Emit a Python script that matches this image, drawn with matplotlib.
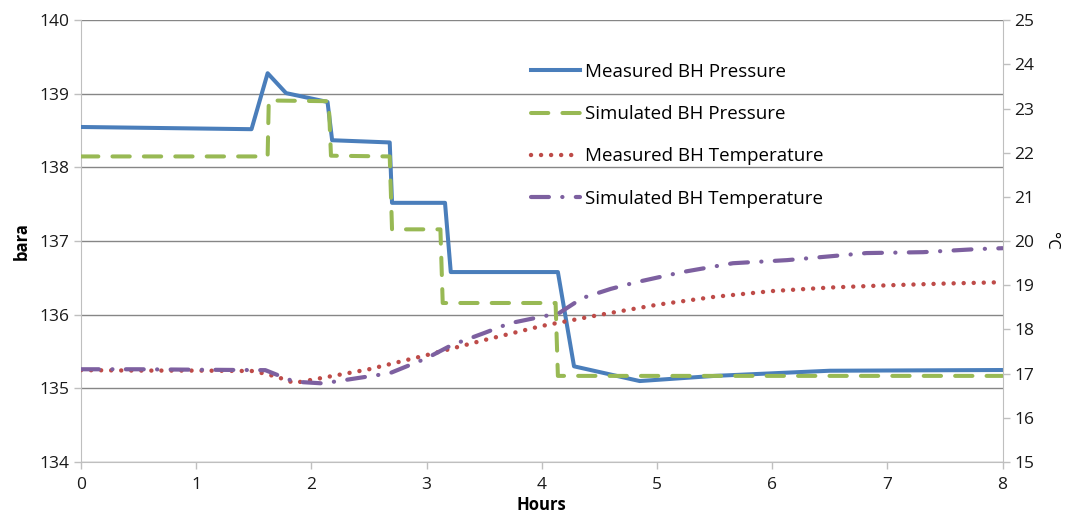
import matplotlib
matplotlib.use("Agg")
import matplotlib.pyplot as plt

plt.rcParams['font.family'] = ['Open Sans', 'DejaVu Sans']

# Measured BH pressure (bara)
mp_t = [0, 1.48, 1.62, 1.78, 2.14, 2.18, 2.68, 2.70, 3.16, 3.21, 4.14, 4.28, 4.85, 5.5, 6.5, 8]
mp_v = [138.55, 138.52, 139.28, 139.01, 138.89, 138.37, 138.34, 137.52, 137.52, 136.58, 136.58,
        135.30, 135.10, 135.17, 135.24, 135.25]
# Simulated BH pressure (bara)
sp_t = [0, 1.62, 1.63, 2.15, 2.17, 2.68, 2.70, 3.12, 3.14, 4.12, 4.14, 8]
sp_v = [138.15, 138.15, 138.91, 138.9, 138.16, 138.15, 137.16, 137.16, 136.16, 136.16, 135.17, 135.17]
# Measured BH temperature (degC)
mt_t = [0, 0.5, 1.0, 1.5, 1.7, 1.85, 2.0, 2.5, 3.0, 3.5, 4.0, 4.5, 5.0, 5.5, 6.0, 6.5, 7.0, 7.5, 8]
mt_v = [17.08, 17.07, 17.07, 17.06, 16.93, 16.79, 16.86, 17.1, 17.42, 17.76, 18.08, 18.33, 18.56,
        18.74, 18.87, 18.95, 19.0, 19.04, 19.07]
# Simulated BH temperature (degC)
st_t = [0, 0.5, 1.0, 1.6, 1.85, 2.1, 2.4, 2.68, 3.0, 3.22, 3.5, 3.72, 3.98, 4.15, 4.35, 4.6,
        4.82, 5.22, 5.66, 6.13, 6.82, 7.31, 7.78, 8]
st_v = [17.1, 17.1, 17.09, 17.08, 16.82, 16.78, 16.9, 17.01, 17.35, 17.65, 17.92, 18.14, 18.28,
        18.37, 18.71, 18.92, 19.07, 19.3, 19.5, 19.57, 19.73, 19.75, 19.82, 19.84]

BLUE = "#4a7ebb"; GREEN = "#98b954"; RED = "#be4b48"; PURPLE = "#7d60a0"
GRID = "#868686"; AX = "#bfbfbf"

fig = plt.figure(figsize=(10.69, 5.18), dpi=100)
ax = fig.add_axes([0.0758, 0.108, 0.862, 0.853])
ax2 = ax.twinx()

l1, = ax.plot(mp_t, mp_v, color=BLUE, lw=2.9, solid_joinstyle="round", zorder=3)
l2, = ax.plot(sp_t, sp_v, color=GREEN, lw=2.9, dashes=(4.3, 3.5), dash_capstyle="round", zorder=3)
l3, = ax2.plot(mt_t, mt_v, color=RED, lw=3.2, dashes=(0.01, 2.25), dash_capstyle="round", zorder=3)
l4, = ax2.plot(st_t, st_v, color=PURPLE, lw=3.0, dashes=(4.3, 3.2, 0.05, 3.2), dash_capstyle="round", zorder=3)

ax.set_xlim(0, 8)
ax.set_ylim(134, 140)
ax2.set_ylim(15, 25)
ax.set_xticks(range(0, 9))
ax.set_yticks(range(134, 141))
ax2.set_yticks(range(15, 26))
ax.grid(axis="y", color=GRID, lw=1)
ax.set_axisbelow(True)

for a in (ax, ax2):
    for s in a.spines.values():
        s.set_visible(False)
    a.tick_params(labelsize=12.5, color=AX, length=5, width=1, labelcolor="#1a1a1a")
ax.spines["left"].set_visible(True); ax.spines["left"].set_color(AX)
ax.spines["bottom"].set_visible(True); ax.spines["bottom"].set_color(AX)
ax2.spines["right"].set_visible(True); ax2.spines["right"].set_color(AX)
ax.tick_params(axis="x", pad=6)

ax.set_ylabel("bara", fontsize=12, fontweight="bold", labelpad=6)
ax.set_xlabel("Hours", fontsize=12, fontweight="bold", labelpad=2)
ax2.set_ylabel("°C", fontsize=12, rotation=270, labelpad=18)

ax.legend([l1, l2, l3, l4],
          ["Measured BH Pressure", "Simulated BH Pressure",
           "Measured BH Temperature", "Simulated BH Temperature"],
          loc="upper left", bbox_to_anchor=(0.47, 0.942), frameon=False,
          fontsize=13.5, handlelength=2.6, handletextpad=0.3, labelspacing=1.3)

fig.savefig("out.png", dpi=100)
